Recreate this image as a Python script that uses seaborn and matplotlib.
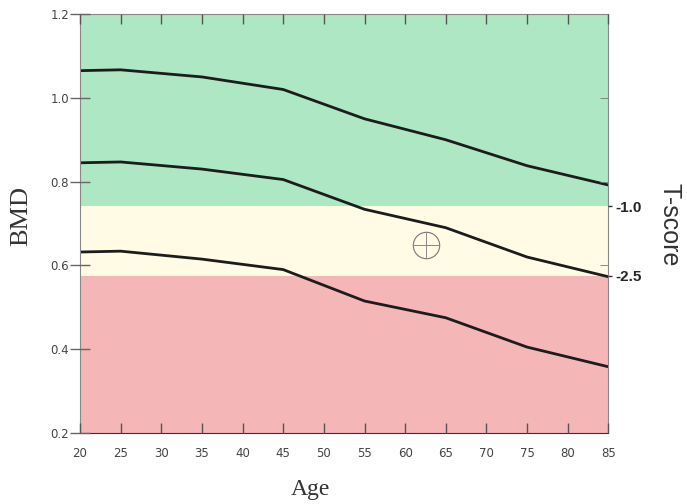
import numpy as np
import pandas as pd
import seaborn as sns
import matplotlib.pyplot as plt

# Данные: возраст и кривые BMD
ages = [20, 25, 35, 45, 55, 65, 75, 85]
bmd_upper = [1.065, 1.067, 1.050, 1.020, 0.950, 0.900, 0.838, 0.792]
bmd_middle = [0.845, 0.847, 0.830, 0.805, 0.734, 0.690, 0.620, 0.573]
bmd_lower = [0.632, 0.634, 0.615, 0.590, 0.515, 0.475, 0.405, 0.358]

# Границы зон T-score
tscore_labels = ['-1.0', '-2.5']
tscore_bmd = [0.741, 0.575]

# Пациент
patient_age = 62.6
patient_bmd = 0.648

df = pd.DataFrame({
    'Age': ages * 3,
    'BMD': bmd_upper + bmd_middle + bmd_lower,
    'curve': ['upper'] * 8 + ['middle'] * 8 + ['lower'] * 8,
})

sns.set_style('ticks')
fig = plt.figure(figsize=(6.87, 5.04), dpi=100)
ax = fig.add_axes([0.1165, 0.141, 0.769, 0.831])
ax.set_axisbelow(False)

# Цветные зоны
ax.axhspan(tscore_bmd[0], 1.2, color='#aee7c3', lw=0)
ax.axhspan(tscore_bmd[1], tscore_bmd[0], color='#fffbe4', lw=0)
ax.axhspan(0.2, tscore_bmd[1], color='#f5b6b8', lw=0)

sns.lineplot(data=df, x='Age', y='BMD', hue='curve', palette=['#1c1c1c'] * 3,
             legend=False, lw=2, ax=ax)

# Маркер пациента
ax.plot([patient_age], [patient_bmd], marker='o', ms=19, mfc='none',
        mec='#777777', mew=0.8, ls='none')
ax.plot([patient_age], [patient_bmd], marker='+', ms=19, mec='#888888',
        mew=0.7, ls='none')

ax.set_xlim(20, 85)
ax.set_ylim(0.2, 1.2)
ax.set_xticks(range(20, 86, 5))
ax.set_yticks([0.2, 0.4, 0.6, 0.8, 1.0, 1.2])
ax.set_yticklabels(['0.2', '0.4', '0.6', '0.8', '1.0', '1.2'])
ax.tick_params(axis='x', direction='in', length=7, width=1, color='#555555',
               labelsize=8.5, labelcolor='#444444', top=True, pad=10)
ax.tick_params(axis='y', direction='inout', length=14, width=1, color='#666666',
               labelsize=8.5, labelcolor='#444444', right=False, pad=1)
for s in ax.spines.values():
    s.set_color('#888888')
    s.set_linewidth(0.8)
ax.spines['bottom'].set_color('#333333')

ax.set_xlabel('Age', family='Liberation Serif', fontsize=17, color='#333333')
ax.set_ylabel('BMD', family='Liberation Serif', fontsize=19, color='#333333')
ax.xaxis.set_label_coords(0.436, -0.11)
ax.yaxis.set_label_coords(-0.09, 0.519)

# Шкала T-score справа
ax2 = ax.twinx()
ax2.set_ylim(0.2, 1.2)
ax2.set_yticks(tscore_bmd)
ax2.set_yticklabels(tscore_labels, fontweight='bold', family='Liberation Sans')
ax2.tick_params(axis='y', direction='out', length=3, width=1, color='#333333',
                labelsize=11, pad=2)
ax2.yaxis.set_minor_locator(plt.FixedLocator([0.6, 0.8, 1.0]))
ax2.tick_params(axis='y', which='minor', direction='in', length=6, color='#777777')
for s in ax2.spines.values():
    s.set_visible(False)
ax2.text(1.115, 0.497, 'T-score', transform=ax.transAxes, rotation=270,
         ha='center', va='center', family='Liberation Sans', fontsize=18,
         color='#333333')

plt.savefig('out.png', dpi=100)
